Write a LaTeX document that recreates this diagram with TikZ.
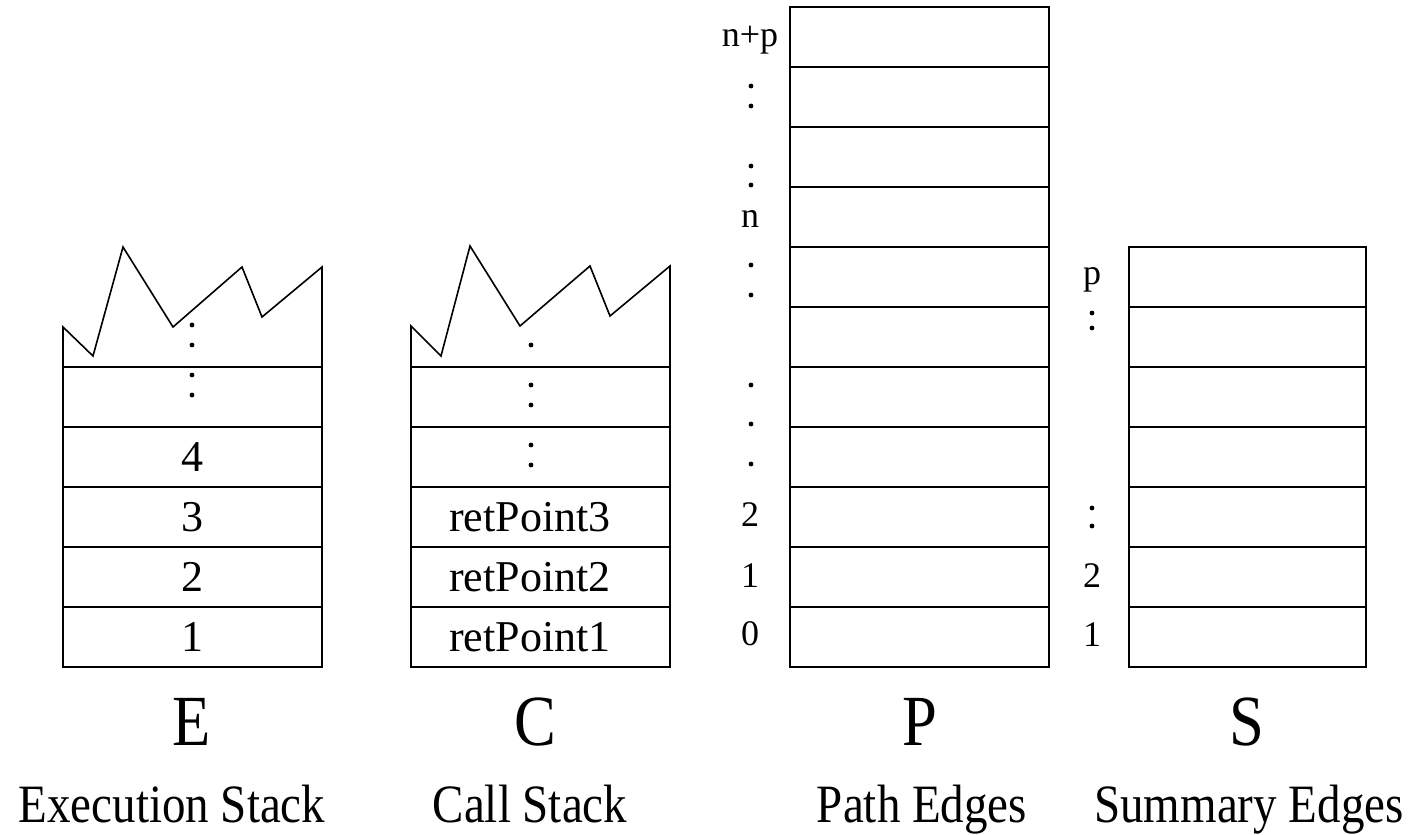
\documentclass[tikz,border=0pt]{standalone}
\usepackage{fontspec}
\setmainfont{Liberation Serif}
\newfontfamily\condfont{Liberation Serif}[FakeStretch=0.87]
\usetikzlibrary{positioning}
\tikzset{
    cell/.style={draw, line width=0.4pt},
    dotmark/.style={circle, fill, inner sep=0pt, minimum size=1.2pt},
    entry/.style={font=\fontsize{11}{13}\selectfont},
    side/.style={anchor=base, font=\fontsize{9}{11}\selectfont},
    big/.style={anchor=base, font=\condfont\fontsize{18}{20}\selectfont},
    caption/.style={anchor=base, font=\condfont\fontsize{13.5}{16}\selectfont}
}

\begin{document}
\begin{tikzpicture}[x=0.25pt, y=-0.25pt]
    \useasboundingbox (0, 0) rectangle (1427, 835);

    % execution stack
    \draw[cell]
    (63, 667) -- (63, 327) -- (93, 356) -- (123, 247) -- (173, 327)
    -- (242, 267) -- (262, 317) -- (322, 267) -- (322, 667) -- cycle;
    \foreach \y in {367, 427, ..., 607}
        \draw[cell] (63, \y) -- (322, \y);
    \node[entry] (e1) at (192, 637) {1};
    \node[entry] (e2) at (192, 577) {2};
    \node[entry] (e3) at (192, 517) {3};
    \node[entry] (e4) at (192, 457) {4};
    \node[dotmark] (ed1) at (192, 325) {};
    \node[dotmark] (ed2) at (192, 345) {};
    \node[dotmark] (ed3) at (192, 375) {};
    \node[dotmark] (ed4) at (192, 395) {};

    % call stack
    \draw[cell]
    (411, 667) -- (411, 326) -- (441, 356) -- (470, 246) -- (520, 326)
    -- (590, 266) -- (610, 316) -- (670, 266) -- (670, 667) -- cycle;
    \foreach \y in {367, 427, ..., 607}
        \draw[cell] (411, \y) -- (670, \y);
    \node[entry] (c1) at (530, 637) {retPoint1};
    \node[entry] (c2) at (530, 577) {retPoint2};
    \node[entry] (c3) at (530, 517) {retPoint3};
    \node[dotmark] (cd1) at (531, 345) {};
    \node[dotmark] (cd2) at (531, 385) {};
    \node[dotmark] (cd3) at (531, 405) {};
    \node[dotmark] (cd4) at (531, 445) {};
    \node[dotmark] (cd5) at (531, 465) {};

    % path edges
    \draw[cell] (790, 7) rectangle (1049, 667);
    \foreach \y in {67, 127, ..., 607}
        \draw[cell] (790, \y) -- (1049, \y);
    \node[side] (pnp) at (750, 47) {n+p};
    \node[side] (pn) at (750, 227) {n};
    \node[side] (p2) at (750, 526) {2};
    \node[side] (p1) at (750, 587) {1};
    \node[side] (p0) at (750, 645) {0};
    \foreach \y [count=\i] in {86, 106, 166, 185, 265, 295, 385, 424, 464}
        \node[dotmark] (pd\i) at (751, \y) {};

    % summary edges
    \draw[cell] (1129, 247) rectangle (1366, 667);
    \foreach \y in {307, 367, ..., 607}
        \draw[cell] (1129, \y) -- (1366, \y);
    \node[side] (sp) at (1092, 284) {p};
    \node[side] (s2) at (1092, 587) {2};
    \node[side] (s1) at (1092, 646) {1};
    \foreach \y [count=\i] in {313, 328, 508, 526}
        \node[dotmark] (sd\i) at (1092, \y) {};

    % names
    \node[big] (ename) at (192, 745) {E};
    \node[big] (cname) at (535, 745) {C};
    \node[big] (pname) at (920, 745) {P};
    \node[big] (sname) at (1247, 745) {S};
    \node[caption] (etext) at (172, 822) {Execution Stack};
    \node[caption] (ctext) at (530, 822) {Call Stack};
    \node[caption] (ptext) at (922, 822) {Path Edges};
    \node[caption] (stext) at (1249, 822) {Summary Edges};
\end{tikzpicture}
\end{document}
